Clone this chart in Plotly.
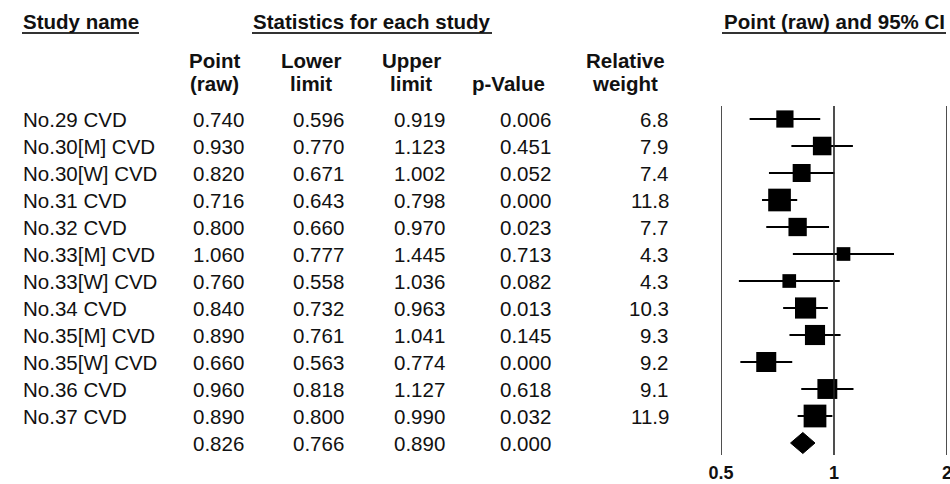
import math
import plotly.graph_objects as go

# ---------------- data ----------------
study_names = ["No.29 CVD", "No.30[M] CVD", "No.30[W] CVD", "No.31 CVD", "No.32 CVD",
               "No.33[M] CVD", "No.33[W] CVD", "No.34 CVD", "No.35[M] CVD", "No.35[W] CVD",
               "No.36 CVD", "No.37 CVD"]
point_vals = [0.740, 0.930, 0.820, 0.716, 0.800, 1.060, 0.760, 0.840, 0.890, 0.660, 0.960, 0.890]
lower_vals = [0.596, 0.770, 0.671, 0.643, 0.660, 0.777, 0.558, 0.732, 0.761, 0.563, 0.818, 0.800]
upper_vals = [0.919, 1.123, 1.002, 0.798, 0.970, 1.445, 1.036, 0.963, 1.041, 0.774, 1.127, 0.990]
p_vals = [0.006, 0.451, 0.052, 0.000, 0.023, 0.713, 0.082, 0.013, 0.145, 0.000, 0.618, 0.032]
rel_weights = [6.8, 7.9, 7.4, 11.8, 7.7, 4.3, 4.3, 10.3, 9.3, 9.2, 9.1, 11.9]
summary_point = 0.826
summary_lower = 0.766
summary_upper = 0.890
summary_p = 0.000
tick_values = [0.5, 1, 2]
tick_labels = ["0.5", "1", "2"]

# ---------------- layout helpers ----------------
W, H = 950, 484
FONT = "Liberation Sans, Arial, sans-serif"
TXT = "#111111"

def px(x):
    return x / W

def py(y):
    return 1 - y / H

rows = list(range(len(study_names)))
summary_row = len(study_names)

fig = go.Figure()

# study points with CI
fig.add_trace(go.Scatter(
    x=point_vals, y=rows, mode="markers",
    marker=dict(symbol="square", color="black", opacity=1, size=rel_weights,
                sizemode="area", sizeref=2 / 6.6 ** 2, line=dict(width=0)),
    error_x=dict(type="data", symmetric=False,
                 array=[u - p for u, p in zip(upper_vals, point_vals)],
                 arrayminus=[p - l for p, l in zip(point_vals, lower_vals)],
                 width=0, thickness=2, color="black"),
    showlegend=False, hoverinfo="skip", cliponaxis=False,
))

# summary diamond
dh = 0.39
fig.add_trace(go.Scatter(
    x=[summary_lower, summary_point, summary_upper, summary_point, summary_lower],
    y=[summary_row, summary_row - dh, summary_row, summary_row + dh, summary_row],
    mode="lines", fill="toself", fillcolor="black", line=dict(color="black", width=1),
    showlegend=False, hoverinfo="skip",
))

shapes = []
for tv in tick_values:
    shapes.append(dict(type="line", xref="x", yref="y domain", x0=tv, x1=tv, y0=0, y1=1,
                       line=dict(color="#222222", width=1.6)))
# header underlines
for x0, x1 in [(22, 139), (252, 492), (722, 946)]:
    shapes.append(dict(type="line", xref="paper", yref="paper", x0=px(x0), x1=px(x1),
                       y0=py(33), y1=py(33), line=dict(color="#333333", width=2)))

ann = []
def add_text(text, x, y, xanchor="center", yref="paper", bold=False, size=20.5):
    ann.append(dict(text=f"<b>{text}</b>" if bold else text, x=px(x), y=(py(y) if yref == "paper" else y),
                    xref="paper", yref=yref, xanchor=xanchor, yanchor="middle", align=xanchor,
                    borderpad=0, showarrow=False, font=dict(family=FONT, size=size, color=TXT)))

# headers
add_text("Study name", 22, 22, xanchor="left", bold=True)
add_text("Statistics for each study", 372, 22, bold=True)
add_text("Point (raw) and 95% CI", 834, 22, bold=True)
add_text("Point", 214, 61, bold=True)
add_text("(raw)", 214, 83, bold=True)
add_text("Lower", 311, 61, bold=True)
add_text("limit", 311, 83, bold=True)
add_text("Upper", 411, 61, bold=True)
add_text("limit", 411, 83, bold=True)
add_text("p-Value", 508, 83, bold=True)
add_text("Relative", 625, 61, bold=True)
add_text("weight", 625, 83, bold=True)

# table rows
for i in rows:
    add_text(study_names[i], 22, i, xanchor="left", yref="y")
    add_text(f"{point_vals[i]:.3f}", 245, i, xanchor="right", yref="y")
    add_text(f"{lower_vals[i]:.3f}", 345, i, xanchor="right", yref="y")
    add_text(f"{upper_vals[i]:.3f}", 446, i, xanchor="right", yref="y")
    add_text(f"{p_vals[i]:.3f}", 552, i, xanchor="right", yref="y")
    add_text(f"{rel_weights[i]:.1f}", 670, i, xanchor="right", yref="y")
add_text(f"{summary_point:.3f}", 245, summary_row, xanchor="right", yref="y")
add_text(f"{summary_lower:.3f}", 345, summary_row, xanchor="right", yref="y")
add_text(f"{summary_upper:.3f}", 446, summary_row, xanchor="right", yref="y")
add_text(f"{summary_p:.3f}", 552, summary_row, xanchor="right", yref="y")

top_px, bot_px = 106, 455
row0_px, row_step = 119, 27.0
y_top = (top_px - row0_px) / row_step
y_bot = (bot_px - row0_px) / row_step

fig.update_layout(
    width=W, height=H, margin=dict(l=0, r=0, t=0, b=0, autoexpand=False),
    paper_bgcolor="white", plot_bgcolor="white",
    xaxis=dict(type="log", range=[math.log10(0.5), math.log10(2)], automargin=False,
               domain=[721 / W, 947 / W], showgrid=False, zeroline=False, showline=False,
               tickvals=tick_values, ticktext=[f"<b>{t}</b>" for t in tick_labels],
               ticks="", ticklabelstandoff=5, ticklabeloverflow="allow",
               tickfont=dict(family=FONT, size=18, color=TXT), fixedrange=True),
    yaxis=dict(range=[y_bot, y_top], domain=[1 - bot_px / H, 1 - top_px / H], automargin=False,
               showgrid=False, zeroline=False, showline=False, showticklabels=False,
               fixedrange=True),
    shapes=shapes, annotations=ann,
)

fig.write_html("out.html", config={"displayModeBar": False},
               post_script="document.body.style.margin='0';document.body.style.overflow='hidden';")
